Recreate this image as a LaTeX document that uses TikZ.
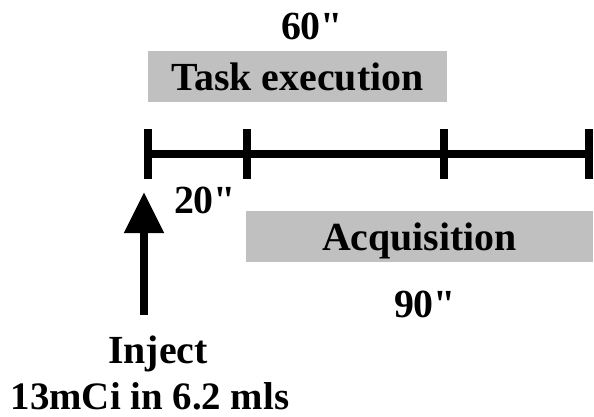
\documentclass[tikz,border=0pt]{standalone}
\usepackage{fontspec}
\setmainfont{Liberation Serif}
\usetikzlibrary{arrows.meta}

\begin{document}
\begin{tikzpicture}[x=1bp,y=-1bp,
    lbl/.style={font=\bfseries\fontsize{40}{44}\selectfont, anchor=base, inner sep=0pt},
    phase/.style={fill=boxgray, draw=none, minimum height=51bp, inner sep=0pt,
      text depth=0pt, font=\bfseries\fontsize{40}{44}\selectfont}]
      \definecolor{boxgray}{RGB}{192,192,192}
      \useasboundingbox (0,0) rectangle (594,416);

      % time line and ticks
      \def\ty{154}     % height of the line
      \def\th{25}      % half length of a tick
      \coordinate (t0) at (148,\ty);
      \coordinate (t1) at (247,\ty);
      \coordinate (t2) at (444,\ty);
      \coordinate (t3) at (589,\ty);
      \draw[line width=8bp] (t0) -- (t3);
      \foreach \t in {t0,t1,t2,t3}
        \draw[line width=8bp] ([yshift=-\th bp]\t) -- ([yshift=\th bp]\t);

      % phases
      \node[phase, minimum width=299bp] (task) at (297.5,76.5) {Task execution};
      \node[phase, minimum width=347bp] (acq) at (419.5,236.5) {Acquisition};

      % durations
      \node[lbl] (d60) at (312,39) {60\textquotedbl};
      \node[lbl] (d20) at (205,213) {20\textquotedbl};
      \node[lbl] (d90) at (425,317) {90\textquotedbl};

      % injection
      \node[lbl] (inject) at (158,363) {Inject};
      \node[lbl, font=\bfseries\fontsize{39}{44}\selectfont] (dose) at (150,409) {13mCi in 6.2 mls};
      \coordinate (tip) at (144,192);
      \draw[line width=8bp, -{Triangle[length=41bp,width=38bp]}]
        ([yshift=48bp]inject.base -| tip) -- (tip);
\end{tikzpicture}
\end{document}
